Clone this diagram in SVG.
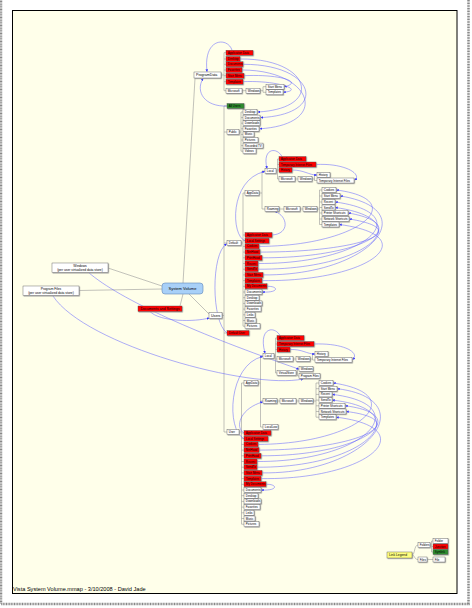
<svg xmlns="http://www.w3.org/2000/svg" width="472" height="608" viewBox="0 0 472 608">
<defs>
<style>
text{font-family:"Liberation Sans",Arial,sans-serif;font-size:2.9px;fill:#000}
.n rect{fill:#fff;stroke:#555;stroke-width:0.4;filter:url(#sh)}
.n.j rect{fill:#f00}
.n.s rect{fill:#2e8b2e}
.n.y rect{fill:#ffff80}
.big text{font-size:3.6px}
.t{fill:none;stroke:#999;stroke-width:0.6}
.a{fill:none;stroke:#5a5aff;stroke-width:0.5;marker-end:url(#ah)}
</style>
<filter id="sh" x="-10%" y="-20%" width="130%" height="160%"><feDropShadow dx="0.7" dy="0.7" stdDeviation="0" flood-color="#999"/></filter>
<marker id="ah" viewBox="0 0 6 6" refX="5" refY="3" markerWidth="2.6" markerHeight="2.6" orient="auto" markerUnits="userSpaceOnUse"><path d="M0,0L6,3L0,6z" fill="#3030ff"/></marker>
</defs>
<rect x="0" y="0" width="472" height="608" fill="#fff"/>
<rect x="1" y="-3" width="467.5" height="607" fill="none" stroke="#888" stroke-width="2.5" stroke-dasharray="1 0.6"/>
<rect x="12.5" y="10.5" width="444.5" height="583" fill="#ffffea" stroke="#000" stroke-width="1"/>

<g id="connectors">
<path class="t" d="M183,283L195,78.5M188,293L209,314M183,294L180,306M162,286L108,268M162,289L79,290.5"/>
<path class="t" d="M221,75H224M224,52.7V90.7M224,52.7H226M224,59H226M224,64.3H226M224,70H226M224,75.7H226M224,81.7H226M224,90.7H226M242,90.7H246M260,90.7H263M263,86.7V92.3M263,86.7H266M263,92.3H266"/>
<path class="t" d="M222,315.5H224M224,106V432M224,106H227M224,132H227M224,243H227M224,333H227M224,432H227"/>
<path class="t" d="M239,132H241M241,112V151.2M241,112H243M241,117.6H243M241,123.2H243M241,128.8H243M241,134.4H243M241,140H243M241,145.6H243M241,151.2H243"/>
<path class="t" d="M241,243H243M243,193V326.2M243,193H245M243,235H245M243,240.7H245M243,246.4H245M243,252.1H245M243,257.8H245M243,263.5H245M243,269.2H245M243,274.9H245M243,280.6H245M243,286.3H245M243,292H245M243,297.7H245M243,303.4H245M243,309.1H245M243,314.8H245M243,320.5H245M243,326.2H245"/>
<path class="t" d="M259,193H262M262,171V209M262,171H265M262,209H265M276,171H277.5M277.5,159V179M277.5,159H279M277.5,164.5H279M277.5,170H279M277.5,179H279M295,179H298M312,179H314.5M314.5,175V180.5M314.5,175H317M314.5,180.5H317M279,209H284M300,209H303M317,209H319.5M319.5,190V224.5M319.5,190H322M319.5,196H322M319.5,202H322M319.5,207.5H322M319.5,213H322M319.5,219H322M319.5,224.5H322"/>
<path class="t" d="M239,432H241.5M241.5,383V524.2M241.5,383H244M241.5,433H244M241.5,438.7H244M241.5,444.4H244M241.5,450.1H244M241.5,455.8H244M241.5,461.5H244M241.5,467.2H244M241.5,472.9H244M241.5,478.6H244M241.5,484.3H244M241.5,490H244M241.5,495.7H244M241.5,501.4H244M241.5,507.1H244M241.5,512.8H244M241.5,518.5H244M241.5,524.2H244"/>
<path class="t" d="M258,383H260.5M260.5,356V427M260.5,356H263M260.5,401H263M260.5,427H263M274,356H275.5M275.5,338V373M275.5,338H277M275.5,344H277M275.5,349.5H277M275.5,359H277M275.5,373H277M293,359H296M310,359H312.5M312.5,354V360M312.5,354H315M312.5,360H315M296,373H297.5M297.5,369V376M297.5,369H299M297.5,376H299M277,401H280M296,401H299M313,401H316M316,383V417.2M316,383H319M316,388.7H319M316,394.4H319M316,400.1H319M316,405.8H319M316,411.5H319M316,417.2H319"/>
<path class="t" d="M412,555C415,555 414,545 418,545M412,555C415,555 414,559.5 418,559.5M430,545H431.5M431.5,541V552M431.5,541H433M431.5,546.5H433M431.5,552H433M427,559.5H433"/>

<path class="a" d="M232,50.2C228,37 203,37 207,71.5"/>
<path class="a" d="M240,59C310,58 326,108 258,112"/>
<path class="a" d="M243,64.3C316,64 330,114 261,117.6"/>
<path class="a" d="M242,70C312,70 332,124 260,128.8"/>
<path class="a" d="M244,75.7C280,74 304,82 284.5,86.7"/>
<path class="a" d="M243,81.7C276,80 306,90 283.5,92.3"/>
<path class="a" d="M227,106C205,107 195,92 203,78.5"/>

<path class="a" d="M282,156.5C276,146 262,149 267,168.3"/>
<path class="a" d="M316,164.5C345,163 362,174 355,180"/>
<path class="a" d="M292,170C304,170 309,175 316.5,175"/>
<path class="a" d="M272,235C290,234 288,216 275,211.5"/>
<path class="a" d="M245,240.7C231,236 229,180 264.5,171.5"/>
<path class="a" d="M259,246.4C360,246 412,200 336.5,190"/>
<path class="a" d="M260,252.1C362,252 416,230 349.5,219"/>
<path class="a" d="M262,257.8C364,258 416,225 348.5,213"/>
<path class="a" d="M258,263.5C366,264 420,214 335.5,202"/>
<path class="a" d="M258,269.2C368,270 422,220 335.5,207.5"/>
<path class="a" d="M263,274.9C370,276 426,210 340.5,196"/>
<path class="a" d="M262,280.6C372,282 426,236 339.5,224.5"/>
<path class="a" d="M267,286.3C279,286 279,293 262.5,292"/>
<path class="a" d="M227,333C211,322 211,253 226.5,244"/>

<path class="a" d="M280,335.5C274,325 258,328 265,353"/>
<path class="a" d="M314,344C343,343 360,352 353,359.5"/>
<path class="a" d="M290,349.5C302,349 307,354 314.5,354"/>
<path class="a" d="M244,433C235,428 239,409 262.5,402"/>
<path class="a" d="M244,438.7C226,430 228,365 262.5,356.5"/>
<path class="a" d="M258,444.4C360,444 412,395 333.5,383"/>
<path class="a" d="M259,450.1C362,450 414,420 346.5,411.5"/>
<path class="a" d="M261,455.8C364,456 416,415 345.5,405.8"/>
<path class="a" d="M257,461.5C366,462 418,405 332.5,394.4"/>
<path class="a" d="M257,467.2C368,468 420,410 332.5,400.1"/>
<path class="a" d="M262,472.9C370,474 424,400 337.5,388.7"/>
<path class="a" d="M261,478.6C372,480 424,428 336.5,417.2"/>
<path class="a" d="M266,484.3C278,484 278,491 261.5,490"/>

<path class="a" d="M88,272C120,300 200,335 298.5,369"/>
<path class="a" d="M53,296C85,345 250,390 303,379"/>
<path class="a" d="M150,311.5C160,322 195,322 209,318"/>
</g>

<g id="system-volume"><rect x="162" y="283" width="41" height="11" rx="3" fill="#a8d0f8" stroke="#5f86b8" stroke-width="0.6"/><text x="182.5" y="290" text-anchor="middle" style="font-size:4px">System Volume</text></g>
<g id="windows-virt" class="n"><rect x="52" y="263" width="56" height="9.5"/><text x="80" y="267" text-anchor="middle" style="font-size:3.3px">Windows</text><text x="80" y="271" text-anchor="middle" style="font-size:3.3px">(per user virtualized data store)</text></g>
<g id="programfiles-virt" class="n"><rect x="23" y="286" width="56" height="9.5"/><text x="51" y="290" text-anchor="middle" style="font-size:3.3px">Program Files</text><text x="51" y="294" text-anchor="middle" style="font-size:3.3px">(per user virtualized data store)</text></g>
<g id="docs-and-settings" class="n j"><rect x="138" y="306" width="44" height="5.5"/><text x="160" y="310" text-anchor="middle" style="font-size:3.6px">Documents and Settings</text></g>

<g id="programdata" class="n big" transform="translate(194,72)"><rect width="27" height="6"/><text x="2" y="4.3">ProgramData</text></g>
<g id="pd-appdata" class="n j" transform="translate(226,50.2)"><rect width="27" height="5"/><text x="1.8" y="3.6">Application Data</text></g>
<g id="pd-desktop" class="n j" transform="translate(226,56.5)"><rect width="14" height="5"/><text x="1.8" y="3.6">Desktop</text></g>
<g id="pd-documents" class="n j" transform="translate(226,61.8)"><rect width="17" height="5"/><text x="1.8" y="3.6">Documents</text></g>
<g id="pd-favorites" class="n j" transform="translate(226,67.5)"><rect width="16" height="5"/><text x="1.8" y="3.6">Favorites</text></g>
<g id="pd-startmenu" class="n j" transform="translate(226,73.2)"><rect width="18" height="5"/><text x="1.8" y="3.6">Start Menu</text></g>
<g id="pd-templates" class="n j" transform="translate(226,79.2)"><rect width="17" height="5"/><text x="1.8" y="3.6">Templates</text></g>
<g id="pd-microsoft" class="n" transform="translate(226,88.2)"><rect width="16" height="5"/><text x="1.8" y="3.6">Microsoft</text></g>
<g id="pd-windows" class="n" transform="translate(246,88.2)"><rect width="14" height="5"/><text x="1.8" y="3.6">Windows</text></g>
<g id="pd-w-startmenu" class="n" transform="translate(266,84.2)"><rect width="18" height="5"/><text x="1.8" y="3.6">Start Menu</text></g>
<g id="pd-w-templates" class="n" transform="translate(266,89.8)"><rect width="17" height="5"/><text x="1.8" y="3.6">Templates</text></g>

<g id="users" class="n big" transform="translate(209,312.5)"><rect width="13" height="6"/><text x="2" y="4.3">Users</text></g>
<g id="all-users" class="n s" transform="translate(227,103.5)"><rect width="17" height="5"/><text x="1.8" y="3.6">All Users</text></g>
<g id="public" class="n" transform="translate(227,129.5)"><rect width="12" height="5"/><text x="1.8" y="3.6">Public</text></g>
<g id="pub-desktop" class="n" transform="translate(243,109.5)"><rect width="14" height="5"/><text x="1.8" y="3.6">Desktop</text></g>
<g id="pub-documents" class="n" transform="translate(243,115.1)"><rect width="17" height="5"/><text x="1.8" y="3.6">Documents</text></g>
<g id="pub-downloads" class="n" transform="translate(243,120.7)"><rect width="17" height="5"/><text x="1.8" y="3.6">Downloads</text></g>
<g id="pub-favorites" class="n" transform="translate(243,126.3)"><rect width="16" height="5"/><text x="1.8" y="3.6">Favorites</text></g>
<g id="pub-music" class="n" transform="translate(243,131.9)"><rect width="11" height="5"/><text x="1.8" y="3.6">Music</text></g>
<g id="pub-pictures" class="n" transform="translate(243,137.5)"><rect width="15" height="5"/><text x="1.8" y="3.6">Pictures</text></g>
<g id="pub-recordedtv" class="n" transform="translate(243,143.1)"><rect width="20" height="5"/><text x="1.8" y="3.6">Recorded TV</text></g>
<g id="pub-videos" class="n" transform="translate(243,148.7)"><rect width="13" height="5"/><text x="1.8" y="3.6">Videos</text></g>

<g id="default" class="n" transform="translate(227,240.5)"><rect width="14" height="5"/><text x="1.8" y="3.6">Default</text></g>
<g id="d-appdata" class="n" transform="translate(245,190.5)"><rect width="14" height="5"/><text x="1.8" y="3.6">AppData</text></g>
<g id="d-local" class="n" transform="translate(265,168.5)"><rect width="11" height="5"/><text x="1.8" y="3.6">Local</text></g>
<g id="d-l-appdata" class="n j" transform="translate(279,156.5)"><rect width="27" height="5"/><text x="1.8" y="3.6">Application Data</text></g>
<g id="d-l-tif" class="n j" transform="translate(279,162)"><rect width="37" height="5"/><text x="1.8" y="3.6">Temporary Internet Files</text></g>
<g id="d-l-history" class="n j" transform="translate(279,167.5)"><rect width="13" height="5"/><text x="1.8" y="3.6">History</text></g>
<g id="d-l-microsoft" class="n" transform="translate(279,176.5)"><rect width="16" height="5"/><text x="1.8" y="3.6">Microsoft</text></g>
<g id="d-l-windows" class="n" transform="translate(298,176.5)"><rect width="14" height="5"/><text x="1.8" y="3.6">Windows</text></g>
<g id="d-l-w-history" class="n" transform="translate(317,172.5)"><rect width="13" height="5"/><text x="1.8" y="3.6">History</text></g>
<g id="d-l-w-tif" class="n" transform="translate(317,178)"><rect width="37" height="5"/><text x="1.8" y="3.6">Temporary Internet Files</text></g>
<g id="d-roaming" class="n" transform="translate(265,206.5)"><rect width="14" height="5"/><text x="1.8" y="3.6">Roaming</text></g>
<g id="d-r-microsoft" class="n" transform="translate(284,206.5)"><rect width="16" height="5"/><text x="1.8" y="3.6">Microsoft</text></g>
<g id="d-r-windows" class="n" transform="translate(303,206.5)"><rect width="14" height="5"/><text x="1.8" y="3.6">Windows</text></g>
<g id="d-r-cookies" class="n" transform="translate(322,187.5)"><rect width="14" height="5"/><text x="1.8" y="3.6">Cookies</text></g>
<g id="d-r-startmenu" class="n" transform="translate(322,193.5)"><rect width="18" height="5"/><text x="1.8" y="3.6">Start Menu</text></g>
<g id="d-r-recent" class="n" transform="translate(322,199.5)"><rect width="13" height="5"/><text x="1.8" y="3.6">Recent</text></g>
<g id="d-r-sendto" class="n" transform="translate(322,205)"><rect width="13" height="5"/><text x="1.8" y="3.6">SendTo</text></g>
<g id="d-r-printer" class="n" transform="translate(322,210.5)"><rect width="26" height="5"/><text x="1.8" y="3.6">Printer Shortcuts</text></g>
<g id="d-r-network" class="n" transform="translate(322,216.5)"><rect width="27" height="5"/><text x="1.8" y="3.6">Network Shortcuts</text></g>
<g id="d-r-templates" class="n" transform="translate(322,222)"><rect width="17" height="5"/><text x="1.8" y="3.6">Templates</text></g>
<g id="d-appdata-j" class="n j" transform="translate(245,232.5)"><rect width="27" height="5"/><text x="1.8" y="3.6">Application Data</text></g>
<g id="d-localsettings" class="n j" transform="translate(245,238.2)"><rect width="24" height="5"/><text x="1.8" y="3.6">Local Settings</text></g>
<g id="d-cookies" class="n j" transform="translate(245,243.9)"><rect width="14" height="5"/><text x="1.8" y="3.6">Cookies</text></g>
<g id="d-nethood" class="n j" transform="translate(245,249.6)"><rect width="15" height="5"/><text x="1.8" y="3.6">NetHood</text></g>
<g id="d-printhood" class="n j" transform="translate(245,255.3)"><rect width="17" height="5"/><text x="1.8" y="3.6">PrintHood</text></g>
<g id="d-recent" class="n j" transform="translate(245,261)"><rect width="13" height="5"/><text x="1.8" y="3.6">Recent</text></g>
<g id="d-sendto" class="n j" transform="translate(245,266.7)"><rect width="13" height="5"/><text x="1.8" y="3.6">SendTo</text></g>
<g id="d-startmenu" class="n j" transform="translate(245,272.4)"><rect width="18" height="5"/><text x="1.8" y="3.6">Start Menu</text></g>
<g id="d-templates" class="n j" transform="translate(245,278.1)"><rect width="17" height="5"/><text x="1.8" y="3.6">Templates</text></g>
<g id="d-mydocuments" class="n j" transform="translate(245,283.8)"><rect width="22" height="5"/><text x="1.8" y="3.6">My Documents</text></g>
<g id="d-documents" class="n" transform="translate(245,289.5)"><rect width="17" height="5"/><text x="1.8" y="3.6">Documents</text></g>
<g id="d-desktop" class="n" transform="translate(245,295.2)"><rect width="14" height="5"/><text x="1.8" y="3.6">Desktop</text></g>
<g id="d-downloads" class="n" transform="translate(245,300.9)"><rect width="17" height="5"/><text x="1.8" y="3.6">Downloads</text></g>
<g id="d-favorites" class="n" transform="translate(245,306.6)"><rect width="16" height="5"/><text x="1.8" y="3.6">Favorites</text></g>
<g id="d-links" class="n" transform="translate(245,312.3)"><rect width="10" height="5"/><text x="1.8" y="3.6">Links</text></g>
<g id="d-music" class="n" transform="translate(245,318)"><rect width="11" height="5"/><text x="1.8" y="3.6">Music</text></g>
<g id="d-pictures" class="n" transform="translate(245,323.7)"><rect width="15" height="5"/><text x="1.8" y="3.6">Pictures</text></g>
<g id="default-user" class="n j" transform="translate(227,330.5)"><rect width="22" height="5"/><text x="1.8" y="3.6">Default User</text></g>

<g id="user" class="n" transform="translate(227,429.5)"><rect width="12" height="5"/><text x="1.8" y="3.6">User</text></g>
<g id="u-appdata" class="n" transform="translate(244,380.5)"><rect width="14" height="5"/><text x="1.8" y="3.6">AppData</text></g>
<g id="u-local" class="n" transform="translate(263,353.5)"><rect width="11" height="5"/><text x="1.8" y="3.6">Local</text></g>
<g id="u-l-appdata" class="n j" transform="translate(277,335.5)"><rect width="27" height="5"/><text x="1.8" y="3.6">Application Data</text></g>
<g id="u-l-tif" class="n j" transform="translate(277,341.5)"><rect width="37" height="5"/><text x="1.8" y="3.6">Temporary Internet Files</text></g>
<g id="u-l-history" class="n j" transform="translate(277,347)"><rect width="13" height="5"/><text x="1.8" y="3.6">History</text></g>
<g id="u-l-microsoft" class="n" transform="translate(277,356.5)"><rect width="16" height="5"/><text x="1.8" y="3.6">Microsoft</text></g>
<g id="u-l-windows" class="n" transform="translate(296,356.5)"><rect width="14" height="5"/><text x="1.8" y="3.6">Windows</text></g>
<g id="u-l-w-history" class="n" transform="translate(315,351.5)"><rect width="13" height="5"/><text x="1.8" y="3.6">History</text></g>
<g id="u-l-w-tif" class="n" transform="translate(315,357.5)"><rect width="37" height="5"/><text x="1.8" y="3.6">Temporary Internet Files</text></g>
<g id="u-l-virtualstore" class="n" transform="translate(277,370.5)"><rect width="19" height="5"/><text x="1.8" y="3.6">VirtualStore</text></g>
<g id="u-vs-windows" class="n" transform="translate(299,366.5)"><rect width="14" height="5"/><text x="1.8" y="3.6">Windows</text></g>
<g id="u-vs-programfiles" class="n" transform="translate(299,373.5)"><rect width="21" height="5"/><text x="1.8" y="3.6">Program Files</text></g>
<g id="u-roaming" class="n" transform="translate(263,398.5)"><rect width="14" height="5"/><text x="1.8" y="3.6">Roaming</text></g>
<g id="u-r-microsoft" class="n" transform="translate(280,398.5)"><rect width="16" height="5"/><text x="1.8" y="3.6">Microsoft</text></g>
<g id="u-r-windows" class="n" transform="translate(299,398.5)"><rect width="14" height="5"/><text x="1.8" y="3.6">Windows</text></g>
<g id="u-r-cookies" class="n" transform="translate(319,380.5)"><rect width="14" height="5"/><text x="1.8" y="3.6">Cookies</text></g>
<g id="u-r-startmenu" class="n" transform="translate(319,386.2)"><rect width="18" height="5"/><text x="1.8" y="3.6">Start Menu</text></g>
<g id="u-r-recent" class="n" transform="translate(319,391.9)"><rect width="13" height="5"/><text x="1.8" y="3.6">Recent</text></g>
<g id="u-r-sendto" class="n" transform="translate(319,397.6)"><rect width="13" height="5"/><text x="1.8" y="3.6">SendTo</text></g>
<g id="u-r-printer" class="n" transform="translate(319,403.3)"><rect width="26" height="5"/><text x="1.8" y="3.6">Printer Shortcuts</text></g>
<g id="u-r-network" class="n" transform="translate(319,409)"><rect width="27" height="5"/><text x="1.8" y="3.6">Network Shortcuts</text></g>
<g id="u-r-templates" class="n" transform="translate(319,414.7)"><rect width="17" height="5"/><text x="1.8" y="3.6">Templates</text></g>
<g id="u-locallow" class="n" transform="translate(263,424.5)"><rect width="15" height="5"/><text x="1.8" y="3.6">LocalLow</text></g>
<g id="u-appdata-j" class="n j" transform="translate(244,430.5)"><rect width="27" height="5"/><text x="1.8" y="3.6">Application Data</text></g>
<g id="u-localsettings" class="n j" transform="translate(244,436.2)"><rect width="24" height="5"/><text x="1.8" y="3.6">Local Settings</text></g>
<g id="u-cookies" class="n j" transform="translate(244,441.9)"><rect width="14" height="5"/><text x="1.8" y="3.6">Cookies</text></g>
<g id="u-nethood" class="n j" transform="translate(244,447.6)"><rect width="15" height="5"/><text x="1.8" y="3.6">NetHood</text></g>
<g id="u-printhood" class="n j" transform="translate(244,453.3)"><rect width="17" height="5"/><text x="1.8" y="3.6">PrintHood</text></g>
<g id="u-recent" class="n j" transform="translate(244,459)"><rect width="13" height="5"/><text x="1.8" y="3.6">Recent</text></g>
<g id="u-sendto" class="n j" transform="translate(244,464.7)"><rect width="13" height="5"/><text x="1.8" y="3.6">SendTo</text></g>
<g id="u-startmenu" class="n j" transform="translate(244,470.4)"><rect width="18" height="5"/><text x="1.8" y="3.6">Start Menu</text></g>
<g id="u-templates" class="n j" transform="translate(244,476.1)"><rect width="17" height="5"/><text x="1.8" y="3.6">Templates</text></g>
<g id="u-mydocuments" class="n j" transform="translate(244,481.8)"><rect width="22" height="5"/><text x="1.8" y="3.6">My Documents</text></g>
<g id="u-documents" class="n" transform="translate(244,487.5)"><rect width="17" height="5"/><text x="1.8" y="3.6">Documents</text></g>
<g id="u-desktop" class="n" transform="translate(244,493.2)"><rect width="14" height="5"/><text x="1.8" y="3.6">Desktop</text></g>
<g id="u-downloads" class="n" transform="translate(244,498.9)"><rect width="17" height="5"/><text x="1.8" y="3.6">Downloads</text></g>
<g id="u-favorites" class="n" transform="translate(244,504.6)"><rect width="16" height="5"/><text x="1.8" y="3.6">Favorites</text></g>
<g id="u-links" class="n" transform="translate(244,510.3)"><rect width="10" height="5"/><text x="1.8" y="3.6">Links</text></g>
<g id="u-music" class="n" transform="translate(244,516)"><rect width="11" height="5"/><text x="1.8" y="3.6">Music</text></g>
<g id="u-pictures" class="n" transform="translate(244,521.7)"><rect width="15" height="5"/><text x="1.8" y="3.6">Pictures</text></g>

<g id="legend" class="n y" transform="translate(387,552)"><rect width="25" height="6"/><text x="2" y="4.2" style="font-size:3.3px">Link Legend</text></g>
<g id="legend-folders" class="n" transform="translate(418,542.5)"><rect width="12" height="5"/><text x="1.8" y="3.6">Folders</text></g>
<g id="legend-folder" class="n" transform="translate(433,538.5)"><rect width="15" height="5"/><text x="1.8" y="3.6">Folder</text></g>
<g id="legend-junction" class="n j" transform="translate(433,544)"><rect width="15" height="5"/><text x="1.8" y="3.6">Junction</text></g>
<g id="legend-symlink" class="n s" transform="translate(433,549.5)"><rect width="15" height="5"/><text x="1.8" y="3.6">Symlink</text></g>
<g id="legend-files" class="n" transform="translate(418,557)"><rect width="9" height="5"/><text x="1.8" y="3.6">Files</text></g>
<g id="legend-file" class="n" transform="translate(433,557)"><rect width="12" height="5"/><text x="1.8" y="3.6">File</text></g>

<text x="13" y="590.5" style="font-size:5.6px">Vista System Volume.mmap - 3/10/2008 - David Jade</text>
</svg>
